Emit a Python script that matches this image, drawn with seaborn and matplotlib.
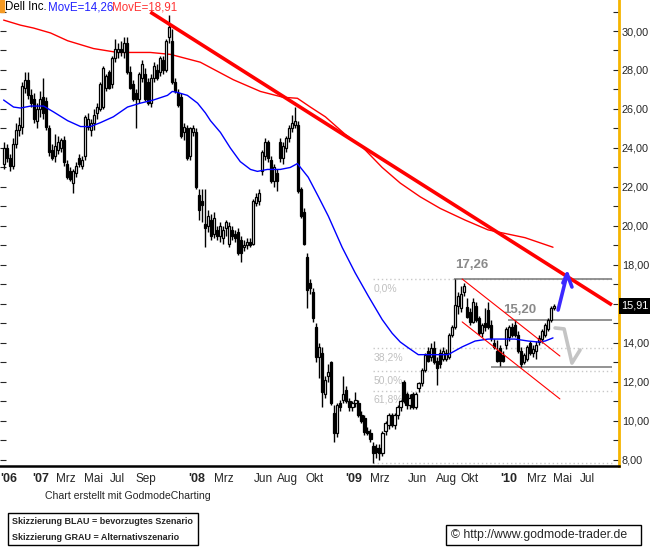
import matplotlib
matplotlib.use("Agg")
import matplotlib.pyplot as plt
from matplotlib import font_manager
from matplotlib.patches import Rectangle
from matplotlib.ticker import FuncFormatter, MultipleLocator
import seaborn as sns

# Dell Inc. weekly candles (late Oct 2006 .. Apr 2010)
opens = [23.2, 24.0, 23.5, 23.1, 24.2, 24.9, 25.1, 27.1, 27.5, 26.7,
         26.5, 25.4, 26.0, 26.6, 26.4, 25.0, 23.9, 23.6, 23.9, 24.0,
         24.4, 23.2, 22.8, 22.2, 22.7, 23.5, 23.1, 23.6, 25.1, 24.9,
         25.3, 25.8, 26.0, 26.1, 27.1, 27.9, 27.3, 28.6, 28.9, 29.1,
         28.9, 29.4, 27.9, 27.3, 26.8, 26.5, 27.6, 27.8, 27.4, 26.3,
         27.6, 28.0, 27.9, 28.5, 28.0, 29.7, 29.5, 27.4, 26.8, 26.6,
         24.8, 25.0, 23.6, 24.8, 24.8, 21.6, 21.3, 20.1, 20.0, 20.3,
         19.6, 19.8, 19.5, 19.4, 19.9, 19.1, 19.8, 19.6, 19.7, 19.3,
         18.9, 19.0, 19.2, 19.1, 21.2, 21.3, 22.8, 23.6, 24.3, 23.4,
         22.3, 22.7, 24.3, 23.5, 24.0, 24.5, 25.0, 25.2, 25.2, 21.9,
         20.7, 18.4, 17.1, 16.6, 14.8, 13.3, 13.5, 11.4, 12.3, 13.0,
         10.4, 9.4, 10.9, 11.1, 11.6, 11.0, 10.7, 10.9, 10.9, 10.3,
         10.15, 9.5, 9.4, 8.7, 8.6, 8.6, 8.35, 9.5, 9.8, 10.3,
         9.8, 10.3, 10.7, 12.0, 11.4, 10.8, 11.4, 10.7, 11.7, 11.95,
         12.6, 13.6, 13.3, 13.75, 13.1, 13.5, 13.2, 13.2, 13.3, 14.4,
         14.8, 15.9, 15.8, 16.6, 15.85, 15.6, 15.1, 15.9, 15.3, 14.5,
         15.0, 15.7, 14.9, 14.0, 13.6, 13.75, 13.4, 13.9, 14.3, 14.8,
         14.9, 14.4, 13.6, 13.0, 13.2, 14.0, 13.5, 13.6, 14.05, 14.2,
         14.4, 14.7, 15.2, 15.8]
highs = [24.3, 24.2, 23.7, 24.5, 25.3, 25.6, 27.4, 27.9, 27.9, 27.0,
         26.8, 26.3, 26.9, 27.6, 26.6, 25.2, 24.2, 24.7, 24.6, 24.5,
         24.6, 23.4, 23.0, 22.9, 23.3, 23.7, 23.6, 25.7, 25.8, 25.5,
         26.0, 26.3, 27.4, 28.2, 27.8, 28.0, 28.7, 29.6, 29.4, 29.5,
         29.7, 29.7, 28.2, 27.5, 27.0, 27.9, 28.5, 28.1, 27.6, 27.8,
         28.4, 28.3, 28.7, 28.7, 29.6, 30.8, 30.1, 27.6, 27.0, 26.8,
         25.3, 25.2, 25.1, 25.2, 25.0, 21.9, 21.9, 21.9, 20.8, 20.6,
         20.7, 20.0, 20.2, 20.0, 20.3, 20.2, 20.0, 19.8, 19.9, 19.5,
         19.3, 19.4, 19.4, 21.4, 21.7, 21.9, 23.9, 24.5, 24.4, 23.6,
         23.2, 22.9, 24.5, 24.3, 24.6, 25.2, 25.7, 26.1, 25.4, 22.0,
         20.9, 18.6, 17.3, 16.8, 15.0, 14.0, 13.8, 12.3, 12.9, 13.1,
         10.8, 10.9, 11.1, 12.3, 11.8, 11.2, 11.0, 11.5, 11.1, 10.5,
         10.3, 9.7, 9.6, 8.9, 8.8, 8.8, 9.5, 10.0, 10.4, 10.4,
         10.4, 10.8, 11.1, 12.1, 11.5, 11.4, 11.5, 11.5, 12.0, 12.7,
         13.5, 13.8, 14.0, 14.1, 13.3, 13.7, 13.8, 13.7, 14.5, 14.9,
         17.26, 16.6, 16.9, 17.05, 16.3, 15.8, 16.3, 16.1, 15.4, 15.0,
         15.8, 16.1, 15.2, 14.2, 14.15, 13.9, 13.6, 14.8, 14.9, 15.0,
         15.2, 14.6, 13.8, 13.5, 13.9, 14.1, 13.9, 14.1, 14.4, 14.7,
         15.0, 15.3, 15.9, 16.0]
lows = [22.9, 23.3, 22.8, 22.9, 24.0, 24.6, 24.7, 26.8, 26.5, 26.1,
        25.3, 25.0, 25.6, 25.5, 24.9, 23.6, 23.4, 23.3, 23.7, 23.8,
        23.1, 22.4, 22.3, 21.7, 22.5, 23.0, 22.9, 23.4, 24.9, 24.6,
        24.9, 25.5, 25.9, 26.0, 26.9, 27.0, 27.1, 28.4, 28.6, 28.7,
        28.6, 27.8, 27.0, 26.4, 25.0, 26.3, 27.4, 26.4, 26.2, 26.1,
        27.4, 27.5, 27.7, 27.8, 27.9, 29.4, 27.3, 26.8, 26.1, 24.5,
        24.4, 23.4, 23.4, 24.6, 21.9, 20.3, 20.2, 18.9, 19.7, 19.3,
        19.4, 19.3, 19.2, 19.1, 19.5, 18.9, 19.3, 19.2, 18.5, 18.15,
        18.7, 18.8, 18.9, 19.0, 21.0, 21.1, 22.6, 23.4, 23.3, 22.2,
        22.0, 21.8, 23.3, 23.2, 23.8, 24.3, 24.8, 25.0, 21.7, 20.4,
        19.0, 15.8, 16.5, 15.1, 13.0, 12.2, 10.7, 11.2, 12.0, 10.8,
        8.9, 9.2, 10.5, 10.9, 10.9, 10.5, 10.5, 10.7, 10.2, 9.9,
        9.3, 9.3, 8.9, 7.85, 8.1, 8.0, 8.2, 9.3, 9.6, 9.7,
        9.6, 10.1, 10.5, 10.9, 10.6, 10.6, 10.6, 10.6, 11.5, 11.8,
        12.5, 13.0, 13.1, 12.9, 11.85, 12.7, 13.1, 13.1, 13.2, 14.3,
        14.7, 15.5, 15.6, 16.4, 15.3, 14.9, 15.0, 15.1, 14.4, 14.3,
        14.6, 14.7, 14.1, 13.7, 13.0, 12.8, 13.0, 13.7, 14.1, 14.3,
        14.3, 13.5, 12.77, 12.9, 13.1, 13.4, 13.3, 13.2, 13.9, 14.0,
        14.3, 14.6, 15.1, 15.7]
closes = [24.0, 23.5, 23.1, 24.2, 24.9, 25.2, 27.2, 27.5, 26.7, 26.3,
          25.5, 26.0, 26.5, 25.8, 25.1, 23.8, 23.5, 24.1, 24.3, 24.4,
          23.3, 22.5, 22.4, 22.8, 23.1, 23.2, 23.4, 25.6, 25.5, 25.3,
          25.7, 26.1, 27.3, 28.1, 27.7, 27.1, 28.6, 29.1, 29.1, 28.9,
          29.4, 27.9, 27.1, 26.5, 26.5, 27.8, 28.3, 26.5, 26.3, 27.6,
          28.2, 27.6, 28.6, 28.0, 29.5, 30.2, 27.4, 26.9, 26.2, 24.6,
          25.1, 23.5, 25.0, 25.0, 22.0, 20.8, 21.1, 19.9, 20.5, 19.5,
          20.4, 19.5, 20.0, 19.8, 20.2, 20.0, 19.5, 19.4, 18.6, 18.6,
          19.0, 19.2, 19.0, 21.3, 21.5, 21.7, 23.8, 24.3, 23.5, 22.3,
          23.0, 22.3, 23.5, 24.1, 24.5, 25.0, 25.3, 25.4, 21.8, 20.5,
          19.1, 16.7, 16.8, 15.3, 13.3, 13.8, 11.5, 12.1, 12.5, 10.9,
          9.4, 10.8, 10.7, 11.4, 11.0, 10.7, 10.9, 11.1, 10.3, 10.0,
          9.45, 9.4, 9.05, 8.35, 8.4, 8.35, 9.4, 9.9, 10.3, 9.8,
          10.3, 10.7, 11.0, 11.0, 10.8, 11.2, 10.7, 11.4, 11.95, 12.6,
          13.4, 13.1, 13.75, 13.0, 12.7, 12.9, 13.6, 13.5, 14.4, 14.8,
          15.95, 16.4, 16.5, 16.9, 15.35, 15.1, 16.1, 15.2, 14.5, 14.9,
          14.8, 14.8, 14.25, 13.8, 13.1, 13.1, 13.1, 14.7, 14.8, 14.4,
          14.4, 13.6, 12.9, 13.4, 13.8, 13.5, 13.7, 13.9, 14.25, 14.6,
          14.9, 15.2, 15.8, 15.91]
weeks = list(range(len(closes)))

# moving averages, sampled along the chart (week, price)
ma_blue_weeks = [0, 3.3, 5.6, 9.0, 13.3, 16.6, 21.3, 25.6, 28.9, 32.2,
                 36.5, 41.2, 45.5, 49.8, 54.5, 56.1, 57.8, 61.1, 64.5, 67.1,
                 68.8, 72.1, 75.4, 78.7, 82.1, 84.4, 87.7, 92.0, 95.3, 97.7,
                 101.3, 104.7, 108.0, 112.6, 116.9, 121.3, 125.9, 129.2, 131.9, 134.6,
                 137.9, 147.8, 152.5, 156.8, 161.1, 170.1, 174.4, 177.7, 180.1, 182.7]
ma_blue = [26.46, 26.1, 26.05, 26.15, 26.15, 25.85, 25.4, 25.1, 25.1, 25.3,
           25.6, 26.1, 26.3, 26.46, 26.7, 26.9, 26.85, 26.7, 26.3, 25.8,
           25.4, 24.8, 24.0, 23.3, 22.9, 22.8, 22.9, 22.9, 23.0, 23.2,
           22.5, 21.5, 20.5, 18.9, 17.6, 16.4, 15.2, 14.5, 14.05, 13.75,
           13.4, 13.4, 13.8, 14.1, 14.2, 14.2, 14.1, 14.05, 14.1, 14.26]
ma_red_weeks = [0, 5.6, 10.0, 15.6, 21.3, 25.6, 29.9, 33.9, 37.9, 48.8,
                55.5, 65.4, 76.4, 85.4, 93.0, 97.7, 102.0, 107.0, 113.6, 119.3,
                125.9, 131.9, 138.5, 145.2, 153.5, 161.1, 173.4, 182.7]
ma_red = [30.56, 30.3, 30.15, 29.9, 29.5, 29.3, 29.1, 29.0, 28.9, 28.9,
          28.8, 28.4, 27.5, 26.9, 26.6, 26.55, 26.1, 25.6, 24.7, 24.05,
          23.0, 22.2, 21.5, 20.9, 20.3, 19.8, 19.4, 18.91]

# drawn analysis: trend line, channel, levels, scenario arrows
trend_x = [48.8, 202.3]
trend_y = [30.97, 15.95]
chan_x = [152.5, 185.0]
chan_upper = [17.28, 13.33]
chan_lower = [15.08, 11.13]
level_vals = [17.26, 15.20, 12.77]
level_start = [149.8, 167.8, 162.0]
line_end = 202.3
fib_start = 122.9
fib_vals = [17.26, 13.72, 12.55, 11.54, 7.84]
fib_labels = ["0,0%", "38,2%", "50,0%", "61,8%", "100,0%"]
blue_arrow_x = [184.4, 187.4, 189.0]
blue_arrow_y = [15.69, 17.54, 16.87]
blue_head_x = [187.4, 186.0]
blue_head_y = [17.54, 17.08]
gray_arrow_x = [183.4, 186.4, 189.0, 191.7]
gray_arrow_y = [14.77, 14.72, 12.97, 13.64]
last_close = 15.91

tick_weeks = [-1.2, 9.6, 17.3, 26.6, 35.5, 43.9, 61.5, 69.8, 83.1, 91.0,
              100.3, 113.6, 121.9, 134.6, 143.9, 151.8, 165.1, 174.1, 182.7, 191.7]
tick_labels = ["'06", "'07", "Mrz", "Mai", "Jul", "Sep", "'08", "Mrz", "Jun", "Aug",
               "Okt", "'09", "Mrz", "Jun", "Aug", "Okt", "'10", "Mrz", "Mai", "Jul"]

sns.set_style("white")
plt.rcParams["font.family"] = ["Liberation Sans", "DejaVu Sans"]
names = {f.name for f in font_manager.fontManager.ttflist}
narrow = "Liberation Sans Narrow" if "Liberation Sans Narrow" in names else "Liberation Sans"
box_size = 7.5 if narrow == "Liberation Sans Narrow" else 6.5
url_size = 9.5 if narrow == "Liberation Sans Narrow" else 8.8

W, H = 650, 549
fig = plt.figure(figsize=(W / 100, H / 100), dpi=100)
ax = fig.add_axes([0, 1 - 466 / H, 619 / W, 466 / H])
ax.set_xlim(-1.0, 204.65)
ax.set_ylim(7.69, 31.59)

# candles
ax.vlines(weeks, lows, highs, color="black", lw=1.0, zorder=3)
bottoms = [min(o, c) for o, c in zip(opens, closes)]
heights = [max(abs(c - o), 0.05) for o, c in zip(opens, closes)]
faces = ["white" if c >= o else "black" for o, c in zip(opens, closes)]
ax.bar(weeks, heights, bottom=bottoms, width=0.72, color=faces,
       edgecolor="black", linewidth=0.9, zorder=4)

# moving averages
sns.lineplot(x=ma_red_weeks, y=ma_red, ax=ax, color="#ff0000", lw=1.0, zorder=2)
sns.lineplot(x=ma_blue_weeks, y=ma_blue, ax=ax, color="#0000ff", lw=1.0, zorder=5)

# fibonacci retracements
ax.hlines(fib_vals, fib_start, line_end, colors="#c8c8c8", linestyles=(0, (1, 2)), lw=1, zorder=1)
for v, lab in zip(fib_vals, fib_labels):
    ax.text(fib_start, v - 0.2, lab, color="#c0c0c0", fontsize=7.5, va="top", ha="left",
            zorder=1, clip_on=True)

# levels
for v, s in zip(level_vals, level_start):
    ax.hlines(v, s, line_end, colors="#808080", lw=1.2, zorder=2)
ax.text(150.3, 18.0, "17,26", color="#8a8a8a", fontsize=9.5, fontweight="bold", va="center")
ax.text(166.1, 15.69, "15,20", color="#8a8a8a", fontsize=9.5, fontweight="bold", va="center")

# trend line and channel
ax.plot(trend_x, trend_y, color="#ff0000", lw=2.6, solid_capstyle="butt", zorder=6)
ax.plot(chan_x, chan_upper, color="#ff0000", lw=0.8, zorder=6)
ax.plot(chan_x, chan_lower, color="#ff0000", lw=0.8, zorder=6)

# scenario sketches
ax.plot(blue_arrow_x, blue_arrow_y, color="#3c28ff", lw=2.6, zorder=7)
ax.plot(blue_head_x, blue_head_y, color="#3c28ff", lw=2.6, zorder=7)
ax.plot(gray_arrow_x, gray_arrow_y, color="#c4c4c4", lw=2.6, zorder=7)

# axes styling
for side in ["top", "left"]:
    ax.spines[side].set_visible(False)
ax.spines["right"].set_color("#f5b400")
ax.spines["right"].set_linewidth(2)
ax.spines["bottom"].set_color("black")
ax.spines["bottom"].set_linewidth(1.8)

ax.yaxis.tick_right()
ax.yaxis.set_major_locator(MultipleLocator(2))
ax.yaxis.set_minor_locator(MultipleLocator(1))
ax.yaxis.set_major_formatter(FuncFormatter(
    lambda v, p: "" if abs(v - 16) < 0.01 else f"{v:.2f}".replace(".", ",")))
ax.tick_params(axis="y", which="both", direction="in", length=4, width=0.8,
               labelsize=7.8, pad=2, left=True, right=True)

ax.set_xticks(tick_weeks)
ax.set_xticklabels(tick_labels)
ax.tick_params(axis="x", direction="in", length=3, labelsize=8.5, pad=5)
for lab in ax.get_xticklabels():
    lab.set_ha("left")
    if lab.get_text().startswith("'"):
        lab.set_fontweight("bold")
        lab.set_fontsize(9)

ax.text(1.004, last_close, "15,91", transform=ax.get_yaxis_transform(), color="white",
        fontsize=7.8, va="center", ha="left", clip_on=False, zorder=10,
        bbox=dict(facecolor="black", edgecolor="none", pad=2))

# header
fig.patches.append(Rectangle((0, 1 - 12 / H), 4 / W, 12 / H, transform=fig.transFigure,
                             color="#f59a23"))
fig.text(5 / W, 1 - 7 / H, "Dell Inc.", fontsize=8.3, va="center", color="black")
fig.text(48 / W, 1 - 7 / H, "MovE=14,26", fontsize=8.3, va="center", color="#2222ff")
fig.text(112 / W, 1 - 7 / H, "MovE=18,91", fontsize=8.3, va="center", color="#ff3333")

# footer
fig.text(45 / W, 1 - 496 / H, "Chart erstellt mit GodmodeCharting", fontsize=7.6, va="center")
fig.patches.append(Rectangle((8 / W, 1 - 545 / H), 190 / W, 32 / H, transform=fig.transFigure,
                             fill=False, edgecolor="black", lw=1))
fig.text(12 / W, 1 - 522 / H, "Skizzierung BLAU = bevorzugtes Szenario", fontsize=box_size,
         family=narrow, fontweight="bold", va="center")
fig.text(12 / W, 1 - 537 / H, "Skizzierung GRAU = Alternativszenario", fontsize=box_size,
         family=narrow, fontweight="bold", va="center")
fig.patches.append(Rectangle((446 / W, 1 - 545 / H), 195 / W, 20 / H, transform=fig.transFigure,
                             fill=False, edgecolor="black", lw=1))
fig.text(451 / W, 1 - 535 / H, "\u00a9 http://www.godmode-trader.de", fontsize=url_size,
         family=narrow, va="center")

fig.savefig("out.png", dpi=100)
